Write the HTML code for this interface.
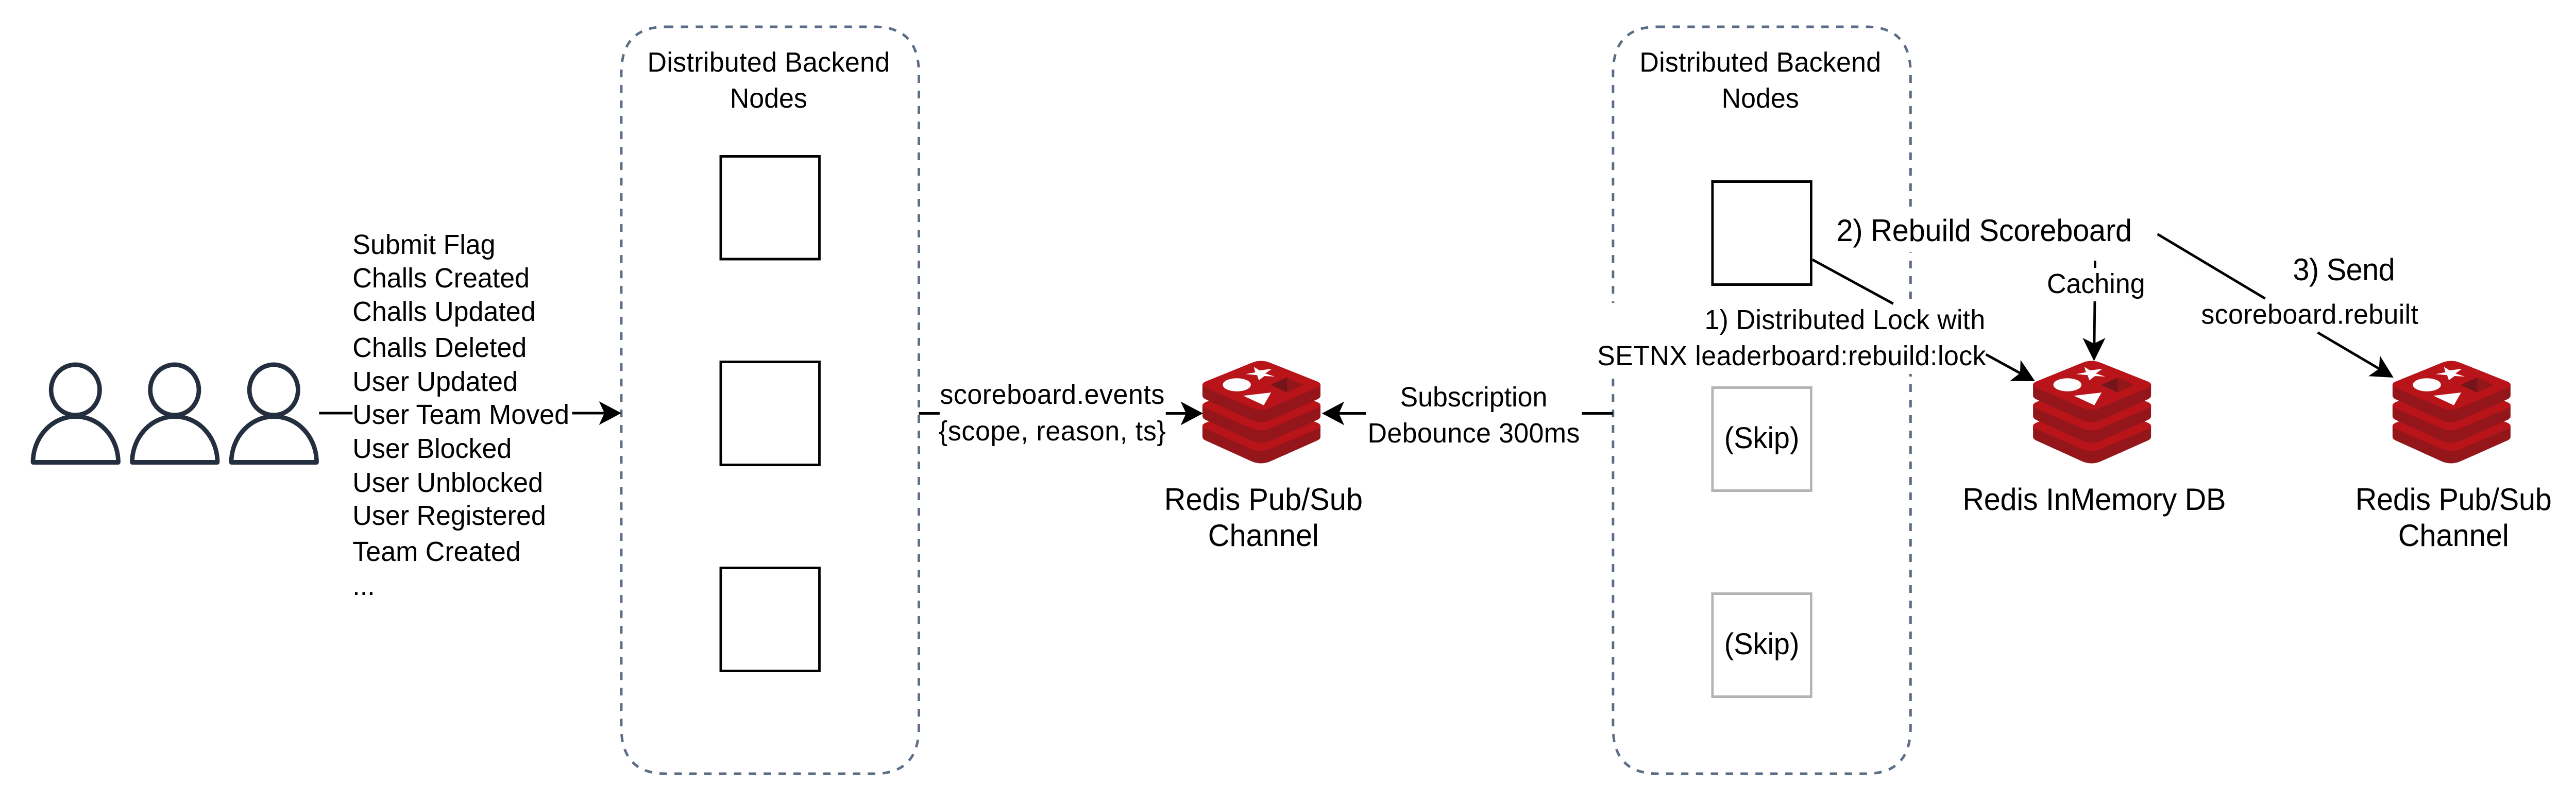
<!DOCTYPE html>
<html>
<head>
<meta charset="utf-8">
<style>
html,body{margin:0;padding:0;background:#fff;width:100%;height:100%;overflow:hidden}
svg{display:block;width:100vw;height:100vh}
text{font-family:"Liberation Sans",Arial,sans-serif;fill:#000;font-size:54px}
.b{font-size:60px}
.m{text-anchor:middle}
</style>
</head>
<body>
<svg xmlns="http://www.w3.org/2000/svg" viewBox="0 0 5195 1555" preserveAspectRatio="none">
<defs>
<g id="layer">
<path d="M0 47L0 68Q0 72 6 75L100 116Q118 123 136 116L232 75Q238 72 238 68L238 47Z" fill="#94161a"/>
<path d="M0 47Q0 43 8 40L100 4Q118 -3 136 4L230 40Q238 43 238 47L238 50L136 92Q118 99 100 92L0 50Z" fill="#b8141a"/>
</g>
<g id="redis">
<use href="#layer" y="80"/>
<use href="#layer" y="40"/>
<use href="#layer"/>
<polygon points="103.7,12.3 115,19 140,16 126.7,25 145.7,31 125,30 113.7,38.3 110,28.3 86.7,26.3 106.7,22.7" fill="#fff"/>
<ellipse cx="69.3" cy="47" rx="28.3" ry="12.7" fill="#fff"/>
<polygon points="82.3,68.3 138.3,62 123.7,86.7" fill="#fff"/>
<polygon points="137.3,47.3 170.7,32.7 170.7,62" fill="#74151a"/>
<polygon points="170.7,32.7 204,47.3 170.7,62" fill="#931619"/>
</g>
<g id="person" fill="none" stroke="#232f3e" stroke-width="9" stroke-linejoin="round">
<circle cx="152" cy="757" r="49"/>
<path d="M66.5 897.5A86 89 0 0 1 238.5 897.5Z"/>
</g>
<path id="head" d="M0 0L-45 -23L-34 0L-45 23Z" fill="#000"/>
</defs>

<rect width="5195" height="1555" fill="#fff"/>

<!-- Containers -->
<path d="M1343 52L1763 52Q1853 52 1853 142L1853 1412Q1853 1502 1763 1502L1343 1502Q1253 1502 1253 1412L1253 142Q1253 52 1343 52Z" fill="none" stroke="#5a6c86" stroke-width="5" stroke-dasharray="15 15"/>
<path d="M3343 52L3763 52Q3853 52 3853 142L3853 1412Q3853 1502 3763 1502L3343 1502Q3253 1502 3253 1412L3253 142Q3253 52 3343 52Z" fill="none" stroke="#5a6c86" stroke-width="5" stroke-dasharray="15 15"/>

<!-- Label background masks over right container -->
<rect x="3220" y="588" width="785" height="138" fill="#fff"/>
<rect x="3700" y="405" width="650" height="85" fill="#fff"/>

<text class="m" x="1550" y="139" textLength="489">Distributed Backend</text>
<text class="m" x="1550" y="209">Nodes</text>
<text class="m" x="3550" y="139" textLength="487">Distributed Backend</text>
<text class="m" x="3550" y="209">Nodes</text>

<!-- Nodes -->
<g fill="#fff" stroke="#000" stroke-width="5">
<rect x="1453.5" y="303.5" width="199" height="199.5"/>
<rect x="1453.5" y="702.5" width="199" height="200"/>
<rect x="1453.5" y="1102.5" width="199" height="200"/>
<rect x="3453.5" y="352.5" width="199" height="200"/>
</g>
<g fill="#fff" stroke="#b3b3b3" stroke-width="5">
<rect x="3453.5" y="752.5" width="199" height="200"/>
<rect x="3453.5" y="1152.5" width="199" height="200"/>
</g>
<text class="m" x="3553" y="870" style="font-size:58px">(Skip)</text>
<text class="m" x="3553" y="1270" style="font-size:58px">(Skip)</text>

<!-- People -->
<use href="#person"/>
<use href="#person" x="200"/>
<use href="#person" x="400"/>

<!-- Event list -->
<text x="711" y="493">Submit Flag</text>
<text x="711" y="558">Challs Created</text>
<text x="711" y="623">Challs Updated</text>
<text x="711" y="693">Challs Deleted</text>
<text x="711" y="759">User Updated</text>
<text x="711" y="823">User Team Moved</text>
<text x="711" y="889">User Blocked</text>
<text x="711" y="955">User Unblocked</text>
<text x="711" y="1019">User Registered</text>
<text x="711" y="1089">Team Created</text>
<text x="711" y="1155">...</text>

<!-- Connectors -->
<g stroke="#000" stroke-width="5" fill="none">
<line x1="643.5" y1="802" x2="711" y2="802"/>
<line x1="1154" y1="802" x2="1225" y2="802"/>
<line x1="1853" y1="802.5" x2="1895" y2="802.5"/>
<line x1="2351" y1="802.5" x2="2395" y2="802.5"/>
<line x1="2700" y1="802.5" x2="2755" y2="802.5"/>
<line x1="3190" y1="802.5" x2="3253" y2="802.5"/>
<line x1="3655" y1="504" x2="3818" y2="589.5"/>
<line x1="4005" y1="688" x2="4075" y2="725"/>
<line x1="4225" y1="506" x2="4225" y2="520"/>
<line x1="4224.5" y1="585" x2="4223.5" y2="670"/>
<line x1="4351" y1="454.5" x2="4568" y2="579.5"/>
<line x1="4674" y1="645.5" x2="4800" y2="717"/>
</g>
<use href="#head" transform="translate(1253 802)"/>
<use href="#head" transform="translate(2426 802.5)"/>
<use href="#head" transform="translate(2666 802.5) rotate(180)"/>
<use href="#head" transform="translate(4104 740) rotate(27.7)"/>
<use href="#head" transform="translate(4223 701) rotate(90)"/>
<use href="#head" transform="translate(4827 733) rotate(30.2)"/>

<!-- Redis icons -->
<use href="#redis" x="2425" y="700"/>
<use href="#redis" x="4100" y="700"/>
<use href="#redis" x="4825" y="700"/>

<!-- Labels -->
<text class="m" x="2122" y="784" textLength="453">scoreboard.events</text>
<text class="m" x="2122" y="855" textLength="458">{scope, reason, ts}</text>
<text class="m b" x="2548" y="990">Redis Pub/Sub</text>
<text class="m b" x="2548" y="1060">Channel</text>
<text class="m" x="2972" y="789">Subscription</text>
<text class="m" x="2972" y="859" textLength="428">Debounce 300ms</text>
<text x="3703.5" y="468" class="b" textLength="596">2) Rebuild Scoreboard</text>
<text x="3437.5" y="639" textLength="566">1) Distributed Lock with</text>
<text x="3221" y="709" textLength="784">SETNX leaderboard:rebuild:lock</text>
<text class="m" x="4227" y="569">Caching</text>
<text class="m b" x="4223.5" y="990" textLength="531">Redis InMemory DB</text>
<text x="4624" y="544" class="b" textLength="206">3) Send</text>
<text x="4439" y="628.5" textLength="438">scoreboard.rebuilt</text>
<text class="m b" x="4948" y="990" textLength="396">Redis Pub/Sub</text>
<text class="m b" x="4948" y="1060">Channel</text>
</svg>
</body>
</html>
